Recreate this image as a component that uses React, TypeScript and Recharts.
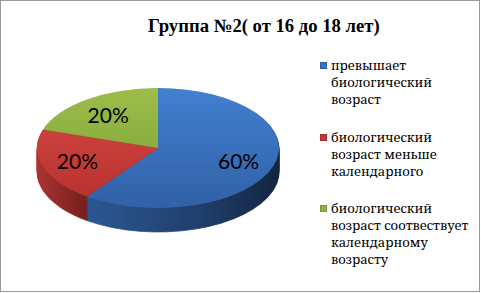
import React from 'react';
import { PieChart, Pie, Cell } from 'recharts';

const title = 'Группа №2( от 16 до 18 лет)';
const categories = [
  'превышает биологический возраст',
  'биологический возраст меньше календарного',
  'биологический возраст соотвествует календарному возрасту',
];
const values = [60, 20, 20];

const topFills = ['url(#topBlue)', 'url(#topRed)', 'url(#topGreen)'];
const sideFills = ['url(#sideBlue)', 'url(#sideRed)', 'url(#sideGreen)'];
const markerColors = ['#3a6fbf', '#c0393a', '#8fb23f'];

const data = categories.map((name, i) => ({ name, value: values[i] }));

const CX = 158;
const CY_PAGE = 148;
const RX = 121;
const RY = 60;
const K = RY / RX;
const CY = CY_PAGE / K;
const DEPTH_PAGE = 24;
const layers: number[] = [];
for (let d = DEPTH_PAGE; d >= 1; d -= 1) layers.push(d / K);

const SERIF = "'Noto Serif', 'DejaVu Serif', serif";
const SERIF_BOLD = "'Liberation Serif', 'Noto Serif', serif";

const renderLabel = (props: any) => {
  const { cx, cy, midAngle, outerRadius, percent } = props;
  const rad = (midAngle * Math.PI) / 180;
  const r = outerRadius * 0.7;
  const x = cx + r * Math.cos(rad);
  const y = cy - r * Math.sin(rad);
  return (
    <text
      transform={`translate(${x},${y}) scale(1,${1 / K})`}
      x={0}
      y={0}
      textAnchor="middle"
      dominantBaseline="central"
      fontFamily="Lato, 'Open Sans', sans-serif"
      fontSize={21}
      fill="#000"
    >
      {`${Math.round(percent * 100)}%`}
    </text>
  );
};

export default function App() {
  return (
    <div
      style={{
        position: 'absolute',
        left: 0,
        top: 0,
        width: 481,
        height: 294,
        background: '#fff',
        overflow: 'hidden',
      }}
    >
      <div
        style={{
          position: 'absolute',
          left: 0,
          top: 0,
          width: 481,
          height: 480,
          transform: `scaleY(${K})`,
          transformOrigin: '0 0',
        }}
      >
        <PieChart width={481} height={480} margin={{ top: 0, right: 0, bottom: 0, left: 0 }}>
          <defs>
            <linearGradient id="topBlue" x1="0" y1="0" x2="0" y2="1">
              <stop offset="0%" stopColor="#4280cf" />
              <stop offset="100%" stopColor="#3161a7" />
            </linearGradient>
            <linearGradient id="topRed" x1="0" y1="0" x2="0" y2="1">
              <stop offset="0%" stopColor="#cb403d" />
              <stop offset="100%" stopColor="#b9332f" />
            </linearGradient>
            <linearGradient id="topGreen" x1="0" y1="0" x2="0" y2="1">
              <stop offset="0%" stopColor="#9dbd4a" />
              <stop offset="100%" stopColor="#8bae3f" />
            </linearGradient>
            <linearGradient id="sideBlue" gradientUnits="userSpaceOnUse" x1="78" y1="0" x2="280" y2="0">
              <stop offset="0%" stopColor="#2d5995" />
              <stop offset="60%" stopColor="#203f6c" />
              <stop offset="100%" stopColor="#142440" />
            </linearGradient>
            <linearGradient id="sideRed" gradientUnits="userSpaceOnUse" x1="36" y1="0" x2="80" y2="0">
              <stop offset="0%" stopColor="#ab3431" />
              <stop offset="100%" stopColor="#7a2220" />
            </linearGradient>
            <linearGradient id="sideGreen" gradientUnits="userSpaceOnUse" x1="36" y1="0" x2="160" y2="0">
              <stop offset="0%" stopColor="#6f8a30" />
              <stop offset="100%" stopColor="#5a7027" />
            </linearGradient>
          </defs>
          {layers.map((d, li) => (
            <Pie
              key={`layer-${li}`}
              data={data}
              dataKey="value"
              nameKey="name"
              cx={CX}
              cy={CY + d}
              outerRadius={RX}
              startAngle={90}
              endAngle={-270}
              isAnimationActive={false}
              legendType="none"
              label={false}
              labelLine={false}
            >
              {data.map((_, i) => (
                <Cell key={i} fill={sideFills[i]} stroke={sideFills[i]} strokeWidth={1} />
              ))}
            </Pie>
          ))}
          <Pie
            data={data}
            dataKey="value"
            nameKey="name"
            cx={CX}
            cy={CY}
            outerRadius={RX}
            startAngle={90}
            endAngle={-270}
            isAnimationActive={false}
            label={renderLabel}
            labelLine={false}
          >
            {data.map((_, i) => (
              <Cell key={i} fill={topFills[i]} stroke="none" />
            ))}
          </Pie>
        </PieChart>
      </div>

      <div
        style={{
          position: 'absolute',
          left: 148,
          top: 15,
          fontFamily: SERIF_BOLD,
          fontWeight: 'bold',
          fontSize: 18.67,
          lineHeight: '21px',
          whiteSpace: 'nowrap',
          color: '#000',
        }}
      >
        {title}
      </div>

      <div
        style={{
          position: 'absolute',
          left: 320,
          top: 57,
          width: 154,
          fontFamily: SERIF,
          fontSize: 13,
          lineHeight: '17px',
          color: '#000',
        }}
      >
        {categories.map((c, i) => (
          <div key={i} style={{ position: 'relative', paddingLeft: 11, marginBottom: 20.5 }}>
            <span
              style={{
                position: 'absolute',
                left: 0,
                top: 5,
                width: 7,
                height: 7,
                background: markerColors[i],
                boxShadow: 'inset 0 0 0 1px rgba(0,0,0,0.15)',
              }}
            />
            {c}
          </div>
        ))}
      </div>

      <div
        style={{
          position: 'absolute',
          left: 0,
          top: 0,
          width: 480,
          height: 292,
          border: '1px solid #999',
          boxSizing: 'border-box',
          pointerEvents: 'none',
        }}
      />
    </div>
  );
}
